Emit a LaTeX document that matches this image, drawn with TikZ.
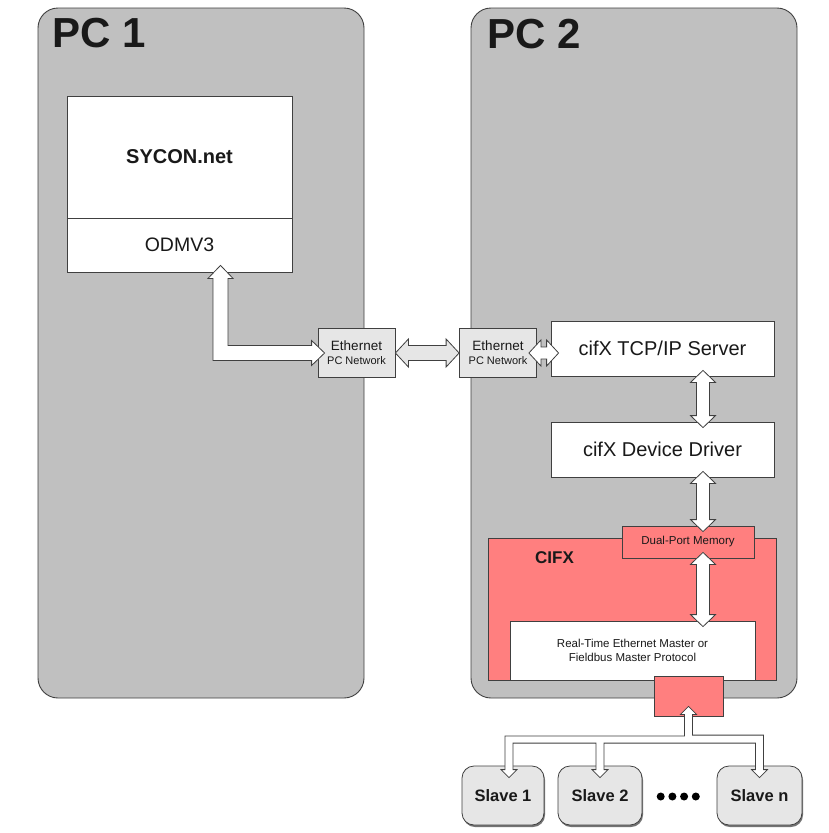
\documentclass[tikz,border=0pt]{standalone}
\usepackage{fontspec}
\setmainfont{Liberation Sans}
\usepackage{tikz}
\usetikzlibrary{calc,shadows}
\definecolor{pcgray}{HTML}{C0C0C0}
\definecolor{cifxred}{HTML}{FF7F7F}
\definecolor{ethgray}{HTML}{E6E6E6}
\definecolor{edge}{HTML}{404040}

% hollow double arrow: [fill]{from}{to}{shaft half}{head half}{head length}{overlap}
\newcommand{\dpipe}[7][white]{%
  \coordinate (pp) at ($(#2)!-#7!(#3)$);
  \coordinate (qq) at ($(#3)!-#7!(#2)$);
  \coordinate (pa) at ($(pp)!#6!(qq)$);
  \coordinate (pb) at ($(qq)!#6!(pp)$);
  \draw[pipe,fill=#1] (pp) -- ($(pa)!#5!90:(qq)$) -- ($(pa)!#4!90:(qq)$)
    -- ($(pb)!#4!-90:(pp)$) -- ($(pb)!#5!-90:(pp)$) -- (qq)
    -- ($(pb)!#5!90:(pp)$) -- ($(pb)!#4!90:(pp)$)
    -- ($(pa)!#4!-90:(qq)$) -- ($(pa)!#5!-90:(qq)$) -- cycle;}

\begin{document}
\begin{tikzpicture}[x=1pt,y=-1pt,
  pc/.style={draw=edge,line width=0.9pt,fill=pcgray,rounded corners=20pt,inner sep=0pt},
  box/.style={draw=edge,line width=0.8pt,fill=white,inner sep=0pt,align=center,text=black!90,font=\fontsize{20}{24}\selectfont},
  eth/.style={box,fill=ethgray,font=\fontsize{13.5}{14}\selectfont,minimum width=77pt,minimum height=49pt},
  redbox/.style={box,fill=cifxred},
  slave/.style={box,fill=ethgray,rounded corners=12pt,minimum height=59pt,font=\bfseries\fontsize{16.5}{18}\selectfont,
    drop shadow={shadow xshift=1pt,shadow yshift=-2pt,fill=black!55,opacity=1}},
  title/.style={anchor=base west,inner sep=0pt,text=black!90},
  pipe/.style={draw=edge,line width=0.8pt,line join=miter,fill=white}
]
\fill[white] (0,0) rectangle (829,833);
\useasboundingbox (0,0) rectangle (829,833);

% PCs
\node[pc,minimum width=326pt,minimum height=690pt] (pc1) at (201,353) {};
\node[pc,minimum width=326pt,minimum height=690pt] (pc2) at (634,353) {};
\node[title,font=\bfseries\fontsize{42}{44}\selectfont] (pc1t) at (52,47) {PC 1};
\node[title,font=\bfseries\fontsize{42}{44}\selectfont] (pc2t) at (487,48) {PC 2};

% PC 1
\node[box,minimum width=225pt,minimum height=122pt,font=\bfseries\fontsize{20}{24}\selectfont] (sycon) at (179.5,157) {SYCON.net};
\node[box,minimum width=225pt,minimum height=54pt,font=\fontsize{19.5}{24}\selectfont] (odm) at (179.5,245) {ODMV3};

% Network
\node[eth] (eth1) at (356.5,353) {Ethernet\\{\fontsize{11}{12}\selectfont PC Network}};
\node[eth] (eth2) at (498,353) {Ethernet\\{\fontsize{11}{12}\selectfont PC Network}};

% PC 2
\node[box,minimum width=223pt,minimum height=55pt] (srv) at (662.5,348.5) {cifX TCP/IP Server};
\node[box,minimum width=223pt,minimum height=55pt] (drv) at (662.5,449.5) {cifX Device Driver};

% CIFX card
\node[redbox,minimum width=288pt,minimum height=142pt] (cifx) at (632,609) {};
\node[title,font=\bfseries\fontsize{17}{20}\selectfont] (cifxt) at (535,563) {CIFX};
\node[redbox,minimum width=132pt,minimum height=32pt,font=\fontsize{11.5}{13}\selectfont] (dpm) at (688,542) {Dual-Port Memory};
\node[box,minimum width=245pt,minimum height=59pt,font=\fontsize{11.5}{13.5}\selectfont] (rt) at (632.5,650.5) {Real-Time Ethernet Master or\\Fieldbus Master Protocol};
\node[redbox,minimum width=69pt,minimum height=40pt] (port) at (688.5,696) {};

% Slaves
\node[slave,minimum width=82pt] (s1) at (503,795.5) {Slave 1};
\node[slave,minimum width=84pt] (s2) at (600,795.5) {Slave 2};
\node[slave,minimum width=85pt] (sn) at (759.5,795.5) {Slave n};
\foreach \i in {0,...,3}
  \fill[black] (660.7+11.7*\i,796.5) circle (4pt);

% ODMV3 to Ethernet
\coordinate (otip) at ($(odm.south)+(41,-7)$);
\coordinate (etip) at ($(eth1.west)+(7,0)$);
\draw[pipe] (otip) -- ++(12.5,13) -- ++(-5,0) |- ($(etip)+(-13,-7.5)$) -- ++(0,-5) -- (etip)
  -- ++(-13,12.5) -- ++(0,-5) -| ($(otip)+(-7.5,13)$) -- ++(-5,0) -- cycle;

\dpipe[ethgray]{eth1.east}{eth2.west}{7.5pt}{14pt}{13pt}{0pt}
\dpipe{eth2.east}{srv.west |- eth2.east}{6pt}{13pt}{12pt}{8pt}

% PC 2 stack
\coordinate (col) at (703,0);
\dpipe{srv.south -| col}{drv.north -| col}{6.5pt}{12.5pt}{12pt}{6pt}
\dpipe{drv.south -| col}{dpm.north -| col}{6.5pt}{12.5pt}{12pt}{6pt}
\dpipe{dpm.south -| col}{rt.north -| col}{6.5pt}{12.5pt}{12pt}{6pt}

% Bus to slaves
\coordinate (ptip) at ($(port.south)+(0,-10)$);
\draw[pipe] (ptip) -- ++(8,8) -- ++(-4,0)
  |- ($(sn.north)+(4,-30.5)$) -- ($(sn.north)+(4,4)$) -- ++(4,0)
  -- ($(sn.north)+(0,12)$) -- ++(-8,-8) -- ++(4,0)
  |- ($(s2.north)+(4,-22.5)$) -- ($(s2.north)+(4,4)$) -- ++(4,0)
  -- ($(s2.north)+(0,12)$) -- ++(-8,-8) -- ++(4,0)
  |- ($(s1.north)+(10,-22.5)$) -- ($(s1.north)+(10,4)$) -- ++(4,0)
  -- ($(s1.north)+(6,12)$) -- ++(-8,-8) -- ++(4,0)
  |- ($(ptip)+(-4,29.5)$) -- ($(ptip)+(-4,8)$) -- ++(-4,0) -- cycle;
\end{tikzpicture}
\end{document}
